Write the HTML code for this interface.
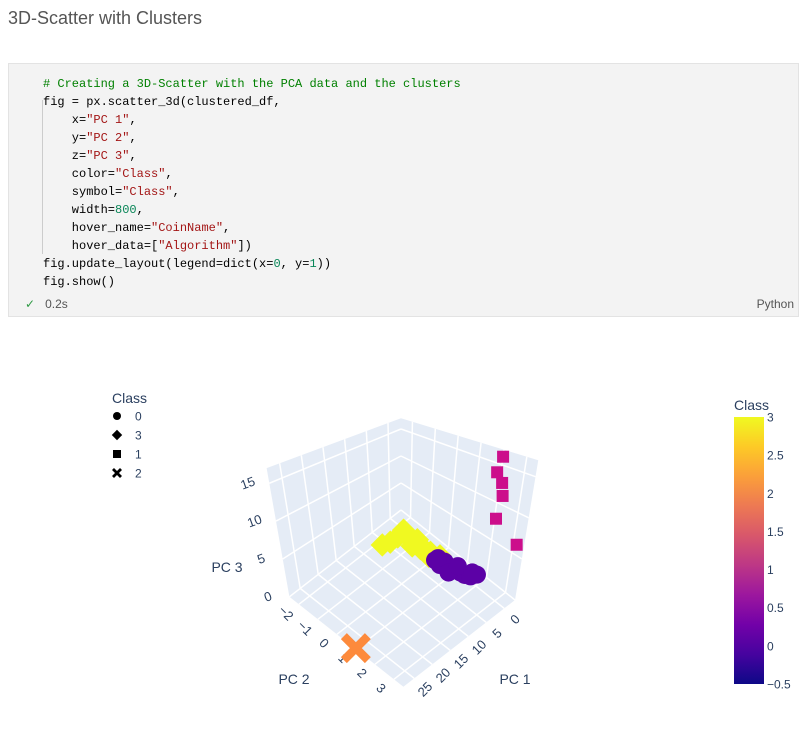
<!DOCTYPE html>
<html><head><meta charset="utf-8">
<style>
body{margin:0;width:808px;height:754px;background:#fff;position:relative;overflow:hidden;font-family:"Liberation Sans",sans-serif}
#title{position:absolute;left:8px;top:8px;font-size:18px;color:#555}
#cell{position:absolute;left:8px;top:63px;width:789px;height:252px;background:#f3f3f3;border:1px solid #e3e3e3}
#code{position:absolute;left:34px;top:11px;margin:0;font-family:"Liberation Mono",monospace;font-size:12px;line-height:18px;color:#000}
.c{color:#008000}.s{color:#a31515}.n{color:#098658}
#guide{position:absolute;left:33px;top:36px;width:1px;height:154px;background:#ccc}
#foot{position:absolute;left:16px;top:233px;font-size:12px;color:#555}
#py{position:absolute;right:4px;top:233px;font-size:12px;color:#555}
svg{position:absolute;left:0;top:0}
</style></head><body>
<div id="title">3D-Scatter with Clusters</div>
<div id="cell">
<div id="guide"></div>
<pre id="code"><span class="c"># Creating a 3D-Scatter with the PCA data and the clusters</span>
fig = px.scatter_3d(clustered_df,
    x=<span class="s">"PC 1"</span>,
    y=<span class="s">"PC 2"</span>,
    z=<span class="s">"PC 3"</span>,
    color=<span class="s">"Class"</span>,
    symbol=<span class="s">"Class"</span>,
    width=<span class="n">800</span>,
    hover_name=<span class="s">"CoinName"</span>,
    hover_data=[<span class="s">"Algorithm"</span>])
fig.update_layout(legend=dict(x=<span class="n">0</span>, y=<span class="n">1</span>))
fig.show()</pre>
<div id="foot"><span style="color:#2e9a44">✓</span>&nbsp;&nbsp; 0.2s</div>
<div id="py">Python</div>
</div>
<svg id="chart" width="808" height="754"></svg>
<script>
const classes=[0,3,1,2];
const c0x=[5.3,5.6,4.3,4.8,4.5,4.3,4.2,3.7,2.5,5.9,3.4,2.7,4.5];
const c0y=[0.8,1.1,1.1,1.5,1.7,1.9,2.1,2.3,2.4,1.6,1.6,2.2,0.8];
const c0z=[3,3,3,3,3,3,3,3,3,3,3,3,3];
const c3x=[9.4,7.8,5.8,4.1,4.35,4.7,5.0,4.7,4.4,3.8,3.7,5.6,5.4,3.7];
const c3y=[-1.1,-1.0,-1.0,-1.0,-0.65,-0.3,0,0.2,0.4,0.77,-0.4,-0.3,0.5,-1.1];
const c3z=[3,3,3,3,3,3,3,3,3,3,3,3,3,3];
const c1x=[-1.5,5,4,4.5,6,5];
const c1y=[3.4,3.4,3.4,3.4,3.4,3.4];
const c1z=[7,11.7,14.1,15.7,17.2,18.8];
const c2x=[27.8];
const c2y=[0.96];
const c2z=[0];
const xTicks=[0,5,10,15,20,25];
const yTicks=[-2,-1,0,1,2,3];
const zTicks=[0,5,10,15];
const cbTicks=[3,2.5,2,1.5,1,0.5,0,-0.5];
const X0=-3,X1=28,Y0=-2.5,Y1=3.5,Z0=0,Z1=17;
function P(x,y,z){const a=x-X0,b=y-Y0,c=z;
 const f=1+0.012*c;const zs=5.4+0.07*a+0.47*b;
 return [401+(-3.6*a+19*b)*f, 510+2.8*a+15*b-c*zs];}
const svg=document.getElementById('chart');const NS='http://www.w3.org/2000/svg';
function mk(t,at,txt){const e=document.createElementNS(NS,t);for(const k in at)e.setAttribute(k,at[k]);if(txt!==undefined)e.textContent=txt;svg.appendChild(e);return e;}
function poly(pts){return pts.map(p=>p.join(',')).join(' ');}
let w;
w=mk('polygon',{points:poly([P(X0,Y0,Z0),P(X1,Y0,Z0),P(X1,Y0,Z1),P(X0,Y0,Z1)]),fill:'#e5ecf6'});


w=mk('polygon',{points:poly([P(X0,Y0,Z0),P(X0,Y1,Z0),P(X0,Y1,Z1),P(X0,Y0,Z1)]),fill:'#e5ecf6'});


w=mk('polygon',{points:poly([P(X0,Y0,Z0),P(X1,Y0,Z0),P(X1,Y1,Z0),P(X0,Y1,Z0)]),fill:'#e5ecf6'});


function ln(p,q,name){const l=mk('line',{x1:p[0],y1:p[1],x2:q[0],y2:q[1],stroke:'#fff','stroke-width':1.5});

}
xTicks.forEach(v=>{ln(P(v,Y0,Z0),P(v,Y0,Z1),'grid-x');ln(P(v,Y0,Z0),P(v,Y1,Z0),'grid-x');});
yTicks.forEach(v=>{ln(P(X0,v,Z0),P(X0,v,Z1),'grid-y');ln(P(X0,v,Z0),P(X1,v,Z0),'grid-y');});
zTicks.forEach(v=>{ln(P(X0,Y0,v),P(X1,Y0,v),'grid-z');ln(P(X0,Y0,v),P(X0,Y1,v),'grid-z');});
function txt(x,y,s,rot,name,anchor,size){const t=mk('text',{x:x,y:y,'font-size':size||12,fill:'#2a3f5f','text-anchor':anchor||'middle','font-family':'Liberation Sans, sans-serif',transform:rot?`rotate(${rot} ${x} ${y})`:''},s);

return t;}
xTicks.forEach(v=>{const p=P(v,Y1,Z0);txt(p[0]+14,p[1]+14,String(v),-45,'x-tick-label','middle',13);});
yTicks.forEach(v=>{const p=P(X1,v,Z0);txt(p[0]-16,p[1]+12,v<0?'\u2212'+(-v):String(v),45,'y-tick-label','middle',13);});
zTicks.forEach(v=>{const p=P(X1,Y0,v);txt(p[0]-20,p[1]+4,String(v),-20,'z-tick-label','middle',13);});
txt(515,684,'PC 1',0,'x-axis-title','middle',14);
txt(294,684,'PC 2',0,'y-axis-title','middle',14);
txt(227,572,'PC 3',0,'z-axis-title','middle',14);
function marker(kind,x,y,col,r,name){let e;
 if(kind===0)e=mk('circle',{cx:x,cy:y,r:r,fill:col});
 else if(kind===3)e=mk('polygon',{points:poly([[x,y-r*1.3],[x+r*1.3,y],[x,y+r*1.3],[x-r*1.3,y]]),fill:col});
 else if(kind===1)e=mk('rect',{x:x-r,y:y-r,width:2*r,height:2*r,fill:col});
 else e=mk('path',{d:`M${x-r} ${y-r}L${x+r} ${y+r}M${x+r} ${y-r}L${x-r} ${y+r}`,stroke:col,'stroke-width':r*0.7});
 
 }
const sets=[[c3x,c3y,c3z,3,'#f0f921',9,'point-class-3'],[c0x,c0y,c0z,0,'#5c01a6',9,'point-class-0'],[c1x,c1y,c1z,1,'#cc0e8b',6,'point-class-1'],[c2x,c2y,c2z,2,'#fd8a3c',12,'point-class-2']];
sets.forEach(s=>{for(let i=0;i<s[0].length;i++){const p=P(s[0][i],s[1][i],s[2][i]);marker(s[3],p[0],p[1],s[4],s[5],s[6]);}});
txt(112,403,'Class',0,'legend-title','start',14);
classes.forEach((c,i)=>{const y=416+i*19;marker(c,117,y,'#000',4,'legend-symbol-'+c);txt(135,y+4.5,String(c),0,'legend-entry-'+c,'start',12);});
const defs=mk('defs',{});const g=document.createElementNS(NS,'linearGradient');g.setAttribute('id','pl');g.setAttribute('x1',0);g.setAttribute('y1',1);g.setAttribute('x2',0);g.setAttribute('y2',0);defs.appendChild(g);
['#0d0887','#46039f','#7201a8','#9c179e','#bd3786','#d8576b','#ed7953','#fb9f3a','#fdca26','#f0f921'].forEach((c,i)=>{const s=document.createElementNS(NS,'stop');s.setAttribute('offset',i/9);s.setAttribute('stop-color',c);g.appendChild(s);});
const cb=mk('rect',{x:734,y:417,width:30,height:267,fill:'url(#pl)'});


txt(734,410,'Class',0,'colorbar-title','start',14);
cbTicks.forEach(v=>{const y=417+(3-v)/3.5*267;txt(767,y+4.5,v<0?'\u2212'+(-v):String(v),0,'colorbar-tick','start',12);});
</script>
</body></html>
